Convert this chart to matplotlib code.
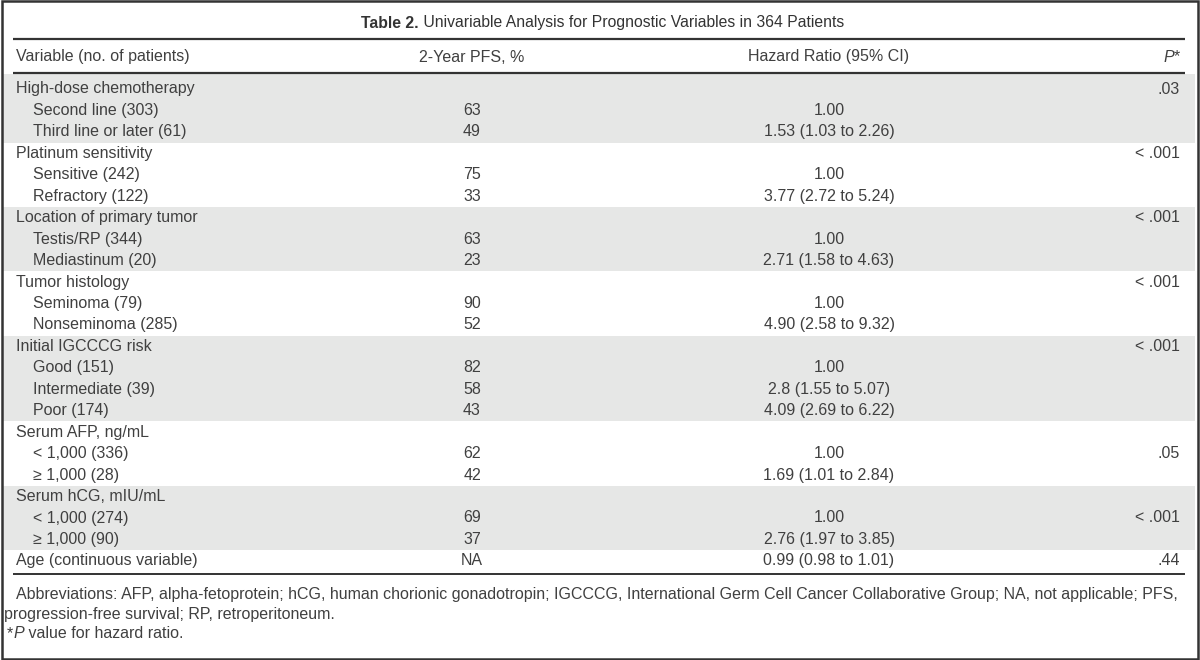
import matplotlib
matplotlib.use('Agg')
import matplotlib.pyplot as plt
from matplotlib.patches import Rectangle

plt.rcParams['font.family'] = ['Liberation Sans', 'DejaVu Sans']

# ---- table content ----
title_bold = "Table 2."
title_rest = " Univariable Analysis for Prognostic Variables in 364 Patients"
col_headers = ["Variable (no. of patients)", "2-Year PFS, %", "Hazard Ratio (95% CI)"]

variables = ["High-dose chemotherapy", "Platinum sensitivity", "Location of primary tumor",
             "Tumor histology", "Initial IGCCCG risk", "Serum AFP, ng/mL",
             "Serum hCG, mIU/mL", "Age (continuous variable)"]
var_pfs = ["", "", "", "", "", "", "", "NA"]
var_hr = ["", "", "", "", "", "", "", "0.99 (0.98 to 1.01)"]
var_p = [".03", "< .001", "< .001", "< .001", "< .001", "", "", ".44"]

level_names = [["Second line (303)", "Third line or later (61)"],
               ["Sensitive (242)", "Refractory (122)"],
               ["Testis/RP (344)", "Mediastinum (20)"],
               ["Seminoma (79)", "Nonseminoma (285)"],
               ["Good (151)", "Intermediate (39)", "Poor (174)"],
               ["< 1,000 (336)", "\u2265 1,000 (28)"],
               ["< 1,000 (274)", "\u2265 1,000 (90)"],
               []]
level_pfs = [["63", "49"], ["75", "33"], ["63", "23"], ["90", "52"],
             ["82", "58", "43"], ["62", "42"], ["69", "37"], []]
level_hr = [["1.00", "1.53 (1.03 to 2.26)"],
            ["1.00", "3.77 (2.72 to 5.24)"],
            ["1.00", "2.71 (1.58 to 4.63)"],
            ["1.00", "4.90 (2.58 to 9.32)"],
            ["1.00", "2.8 (1.55 to 5.07)", "4.09 (2.69 to 6.22)"],
            ["1.00", "1.69 (1.01 to 2.84)"],
            ["1.00", "2.76 (1.97 to 3.85)"],
            []]
level_p = [["", ""], ["", ""], ["", ""], ["", ""], ["", "", ""],
           [".05", ""], ["< .001", ""], []]

footnote1 = ("Abbreviations: AFP, alpha-fetoprotein; hCG, human chorionic gonadotropin; IGCCCG, "
             "International Germ Cell Cancer Collaborative Group; NA, not applicable; PFS,")
footnote2 = "progression-free survival; RP, retroperitoneum."
footnote3 = " value for hazard ratio."

# ---- layout (pixel units) ----
fs = 11.55
txt = '#404040'
x_lab, x_ind, x_pfs, x_hr, x_p = 16, 33, 472, 829, 1180
y_first, pitch = 89, 21.45
shade = '#e6e7e6'

fig = plt.figure(figsize=(12, 6.6), dpi=100)
ax = fig.add_axes([0, 0, 1, 1])
ax.set_xlim(0, 1200)
ax.set_ylim(660, 0)
ax.axis('off')

# outer frame
ax.add_patch(Rectangle((1.5, 1), 1196, 657.5, fill=False, ec='#333333', lw=1.8, zorder=5))

# title
t1 = ax.text(361, 23, title_bold, fontsize=11.3, weight='bold', color='#333333',
             ha='left', va='center')
ax.annotate(title_rest, xy=(1, 0), xycoords=t1, fontsize=11.3, color='#333333',
            ha='left', va='bottom')

# header
ax.text(x_lab, 57, col_headers[0], fontsize=fs, color=txt, va='center')
ax.text(x_pfs, 57, col_headers[1], fontsize=fs, color=txt, va='center', ha='center')
ax.text(x_hr, 57, col_headers[2], fontsize=fs, color=txt, va='center', ha='center')
star = ax.text(x_p, 57, "*", fontsize=fs, color=txt, va='center', ha='right')
ax.annotate("P", xy=(0, 0), xycoords=star, fontsize=fs, color=txt, style='italic',
            ha='right', va='bottom')

ax.hlines(38.5, 13, 1185, color='#333333', lw=1.6)
ax.hlines(72.5, 13, 1185, color='#333333', lw=1.6)

# body rows
row = 0
for g, var in enumerate(variables):
    n = 1 + len(level_names[g])
    top = 74 if g == 0 else y_first + pitch * (row - 0.5)
    bottom = y_first + pitch * (row + n - 0.5)
    if g % 2 == 0:
        ax.add_patch(Rectangle((3, top), 1192, bottom - top, color=shade, lw=0, zorder=0))
    y = y_first + pitch * row
    ax.text(x_lab, y, var, fontsize=fs, color=txt, va='center')
    ax.text(x_pfs, y, var_pfs[g], fontsize=fs, color=txt, va='center', ha='center')
    ax.text(x_hr, y, var_hr[g], fontsize=fs, color=txt, va='center', ha='center')
    ax.text(x_p, y, var_p[g], fontsize=fs, color=txt, va='center', ha='right')
    row += 1
    for k, name in enumerate(level_names[g]):
        y = y_first + pitch * row
        ax.text(x_ind, y, name, fontsize=fs, color=txt, va='center')
        ax.text(x_pfs, y, level_pfs[g][k], fontsize=fs, color=txt, va='center', ha='center')
        ax.text(x_hr, y, level_hr[g][k], fontsize=fs, color=txt, va='center', ha='center')
        ax.text(x_p, y, level_p[g][k], fontsize=fs, color=txt, va='center', ha='right')
        row += 1

ax.hlines(574, 13, 1185, color='#333333', lw=1.4)

# footnotes
ax.text(16, 594, footnote1, fontsize=fs, color=txt, va='center')
ax.text(4, 614, footnote2, fontsize=fs, color=txt, va='center')
s = ax.text(7, 634, "*", fontsize=fs, color=txt, va='center')
p = ax.annotate("P", xy=(1, 0), xycoords=s, fontsize=fs, color=txt, style='italic',
                ha='left', va='bottom')
ax.annotate(footnote3, xy=(1, 0), xycoords=p, fontsize=fs, color=txt, ha='left', va='bottom')

fig.savefig('out.png', dpi=100)
